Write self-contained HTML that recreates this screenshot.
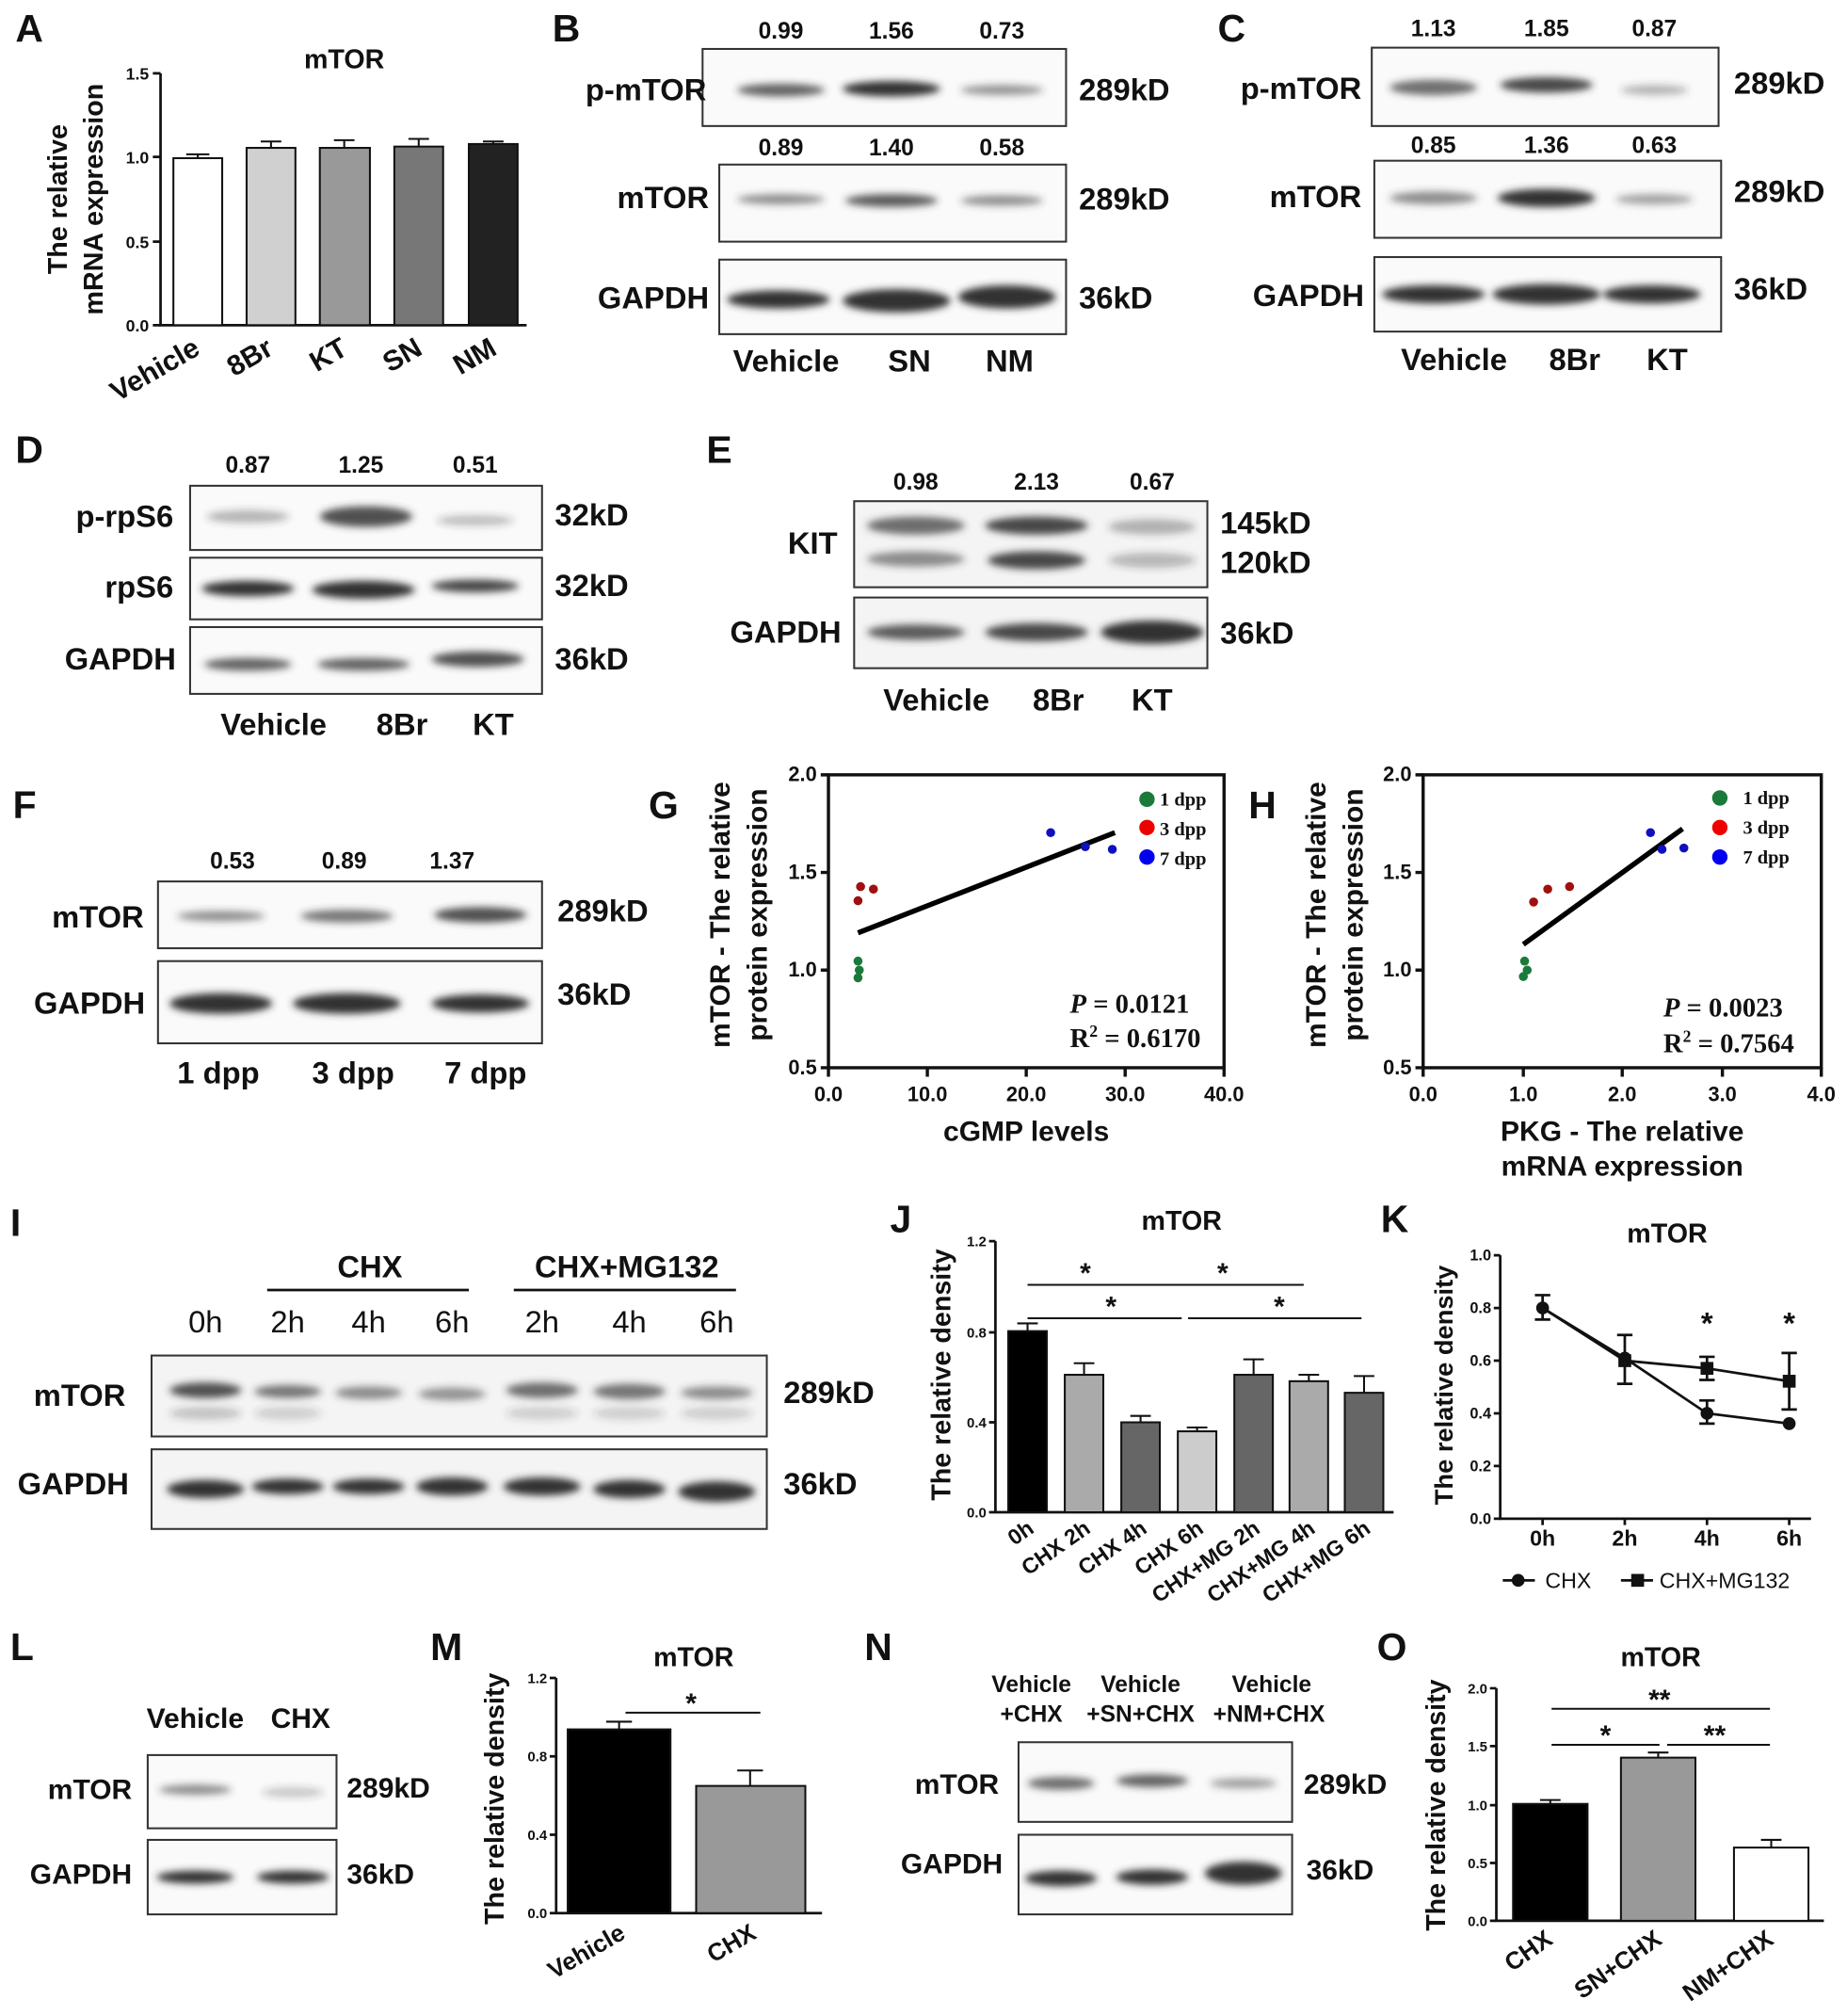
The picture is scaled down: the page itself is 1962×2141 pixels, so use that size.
<!DOCTYPE html>
<html><head><meta charset="utf-8">
<style>
html,body{margin:0;padding:0;background:#fff;}
svg{display:block;}
text{font-family:"Liberation Sans",sans-serif;font-weight:bold;fill:#111;}
.L{font-size:30px;}
.n{font-size:18px;}
.lab{font-size:24px;}
.kd{font-size:24px;}
.tk{font-size:13px;}
.tt{font-size:21px;}
.serif{font-family:"Liberation Serif",serif;}
</style></head><body>
<svg width="1962" height="2141" viewBox="0 0 1438 1569" xmlns="http://www.w3.org/2000/svg">
<defs>
<filter id="b" x="-20%" y="-100%" width="140%" height="300%"><feGaussianBlur stdDeviation="3"/></filter>
</defs>
<rect width="1438" height="1569" fill="#fff"/>

<!-- A -->
<text class="L" x="12" y="32">A</text>
<text class="tt" x="268" y="53" text-anchor="middle">mTOR</text>
<g stroke="#111" stroke-width="2" fill="none">
<path d="M125,57 V253 H410"/>
<path d="M119,57H125M119,122H125M119,188H125M119,253H125"/>
</g>
<g class="tk"><text x="116" y="62" text-anchor="end">1.5</text><text x="116" y="127" text-anchor="end">1.0</text><text x="116" y="193" text-anchor="end">0.5</text><text x="116" y="258" text-anchor="end">0.0</text></g>
<g stroke="#111" stroke-width="1.5">
<rect x="135" y="123" width="38" height="130" fill="#fff"/>
<rect x="192" y="115" width="38" height="138" fill="#d0d0d0"/>
<rect x="249" y="115" width="39" height="138" fill="#999"/>
<rect x="307" y="114" width="38" height="139" fill="#777"/>
<rect x="365" y="112" width="38" height="141" fill="#222"/>
<path d="M154,120V123M145,120H163M211,110V115M203,110H219M268,109V115M260,109H276M326,108V114M318,108H334M384,110V112M376,110H392" fill="none"/>
</g>
<g class="lab" font-size="22">
<text transform="translate(157,275) rotate(-30)" text-anchor="end" style="font-size:22px">Vehicle</text>
<text transform="translate(214,275) rotate(-30)" text-anchor="end" style="font-size:22px">8Br</text>
<text transform="translate(272,275) rotate(-30)" text-anchor="end" style="font-size:22px">KT</text>
<text transform="translate(330,275) rotate(-30)" text-anchor="end" style="font-size:22px">SN</text>
<text transform="translate(388,275) rotate(-30)" text-anchor="end" style="font-size:22px">NM</text>
</g>
<text transform="translate(52,155) rotate(-90)" text-anchor="middle" style="font-size:21px">The relative</text>
<text transform="translate(80,155) rotate(-90)" text-anchor="middle" style="font-size:21px">mRNA expression</text>

<!-- B -->
<text class="L" x="430" y="32">B</text>
<g class="n" text-anchor="middle"><text x="608" y="30">0.99</text><text x="694" y="30">1.56</text><text x="780" y="30">0.73</text>
<text x="608" y="121">0.89</text><text x="694" y="121">1.40</text><text x="780" y="121">0.58</text></g>
<g stroke="#333" stroke-width="1.5" fill="#fafafa"><rect x="547" y="38" width="283" height="60"/><rect x="560" y="128" width="270" height="60"/><rect x="560" y="202" width="270" height="58"/></g>
<g filter="url(#b)" fill="#333">
<ellipse cx="608" cy="70" rx="34" ry="5" opacity="0.75"/><ellipse cx="694" cy="69" rx="38" ry="6"/><ellipse cx="780" cy="70" rx="32" ry="4" opacity="0.5"/>
<ellipse cx="608" cy="155" rx="34" ry="4" opacity="0.55"/><ellipse cx="694" cy="156" rx="36" ry="5" opacity="0.8"/><ellipse cx="780" cy="156" rx="32" ry="4" opacity="0.55"/>
<ellipse cx="606" cy="233" rx="40" ry="7"/><ellipse cx="698" cy="234" rx="42" ry="9"/><ellipse cx="784" cy="231" rx="38" ry="9"/>
</g>
<g class="lab" text-anchor="end"><text x="550" y="78">p-mTOR</text><text x="552" y="162">mTOR</text><text x="552" y="240">GAPDH</text></g>
<g class="kd"><text x="840" y="78">289kD</text><text x="840" y="163">289kD</text><text x="840" y="240">36kD</text></g>
<g class="lab" text-anchor="middle"><text x="612" y="289">Vehicle</text><text x="708" y="289">SN</text><text x="786" y="289">NM</text></g>

<!-- C -->
<text class="L" x="948" y="32">C</text>
<g class="n" text-anchor="middle"><text x="1116" y="28">1.13</text><text x="1204" y="28">1.85</text><text x="1288" y="28">0.87</text>
<text x="1116" y="119">0.85</text><text x="1204" y="119">1.36</text><text x="1288" y="119">0.63</text></g>
<g stroke="#333" stroke-width="1.5" fill="#fafafa"><rect x="1068" y="37" width="270" height="61"/><rect x="1070" y="125" width="270" height="60"/><rect x="1070" y="200" width="270" height="58"/></g>
<g filter="url(#b)" fill="#333">
<ellipse cx="1116" cy="68" rx="34" ry="6" opacity="0.7"/><ellipse cx="1204" cy="66" rx="36" ry="6" opacity="0.9"/><ellipse cx="1288" cy="70" rx="26" ry="4" opacity="0.35"/>
<ellipse cx="1116" cy="154" rx="34" ry="5" opacity="0.55"/><ellipse cx="1204" cy="154" rx="38" ry="7"/><ellipse cx="1288" cy="155" rx="30" ry="4" opacity="0.45"/>
<ellipse cx="1116" cy="229" rx="40" ry="7"/><ellipse cx="1204" cy="229" rx="42" ry="8"/><ellipse cx="1286" cy="229" rx="38" ry="7"/>
</g>
<g class="lab" text-anchor="end"><text x="1060" y="77">p-mTOR</text><text x="1060" y="161">mTOR</text><text x="1062" y="238">GAPDH</text></g>
<g class="kd"><text x="1350" y="73">289kD</text><text x="1350" y="157">289kD</text><text x="1350" y="233">36kD</text></g>
<g class="lab" text-anchor="middle"><text x="1132" y="288">Vehicle</text><text x="1226" y="288">8Br</text><text x="1298" y="288">KT</text></g>

<!-- D -->
<text class="L" x="12" y="360">D</text>
<g class="n" text-anchor="middle"><text x="193" y="368">0.87</text><text x="281" y="368">1.25</text><text x="370" y="368">0.51</text></g>
<g stroke="#333" stroke-width="1.5" fill="#fafafa"><rect x="148" y="378" width="274" height="50"/><rect x="148" y="434" width="274" height="48"/><rect x="148" y="488" width="274" height="52"/></g>
<g filter="url(#b)" fill="#333">
<ellipse cx="193" cy="402" rx="32" ry="5" opacity="0.35"/><ellipse cx="285" cy="402" rx="36" ry="8" opacity="0.85"/><ellipse cx="370" cy="405" rx="30" ry="4" opacity="0.3"/>
<ellipse cx="193" cy="458" rx="36" ry="6"/><ellipse cx="283" cy="459" rx="40" ry="7"/><ellipse cx="370" cy="456" rx="34" ry="5" opacity="0.9"/>
<ellipse cx="193" cy="517" rx="34" ry="5" opacity="0.75"/><ellipse cx="283" cy="517" rx="36" ry="5" opacity="0.75"/><ellipse cx="372" cy="513" rx="36" ry="6" opacity="0.85"/>
</g>
<g class="lab" text-anchor="end"><text x="135" y="410">p-rpS6</text><text x="135" y="465">rpS6</text><text x="137" y="521">GAPDH</text></g>
<g class="kd"><text x="432" y="409">32kD</text><text x="432" y="464">32kD</text><text x="432" y="521">36kD</text></g>
<g class="lab" text-anchor="middle"><text x="213" y="572">Vehicle</text><text x="313" y="572">8Br</text><text x="384" y="572">KT</text></g>

<!-- E -->
<text class="L" x="550" y="360">E</text>
<g class="n" text-anchor="middle"><text x="713" y="381">0.98</text><text x="807" y="381">2.13</text><text x="897" y="381">0.67</text></g>
<g stroke="#333" stroke-width="1.5" fill="#f4f4f4"><rect x="665" y="390" width="275" height="67"/><rect x="665" y="465" width="275" height="55"/></g>
<g filter="url(#b)" fill="#333">
<ellipse cx="713" cy="409" rx="38" ry="7" opacity="0.7"/><ellipse cx="713" cy="435" rx="38" ry="6" opacity="0.55"/>
<ellipse cx="807" cy="409" rx="40" ry="7" opacity="0.9"/><ellipse cx="807" cy="436" rx="38" ry="7" opacity="0.9"/>
<ellipse cx="897" cy="410" rx="34" ry="6" opacity="0.35"/><ellipse cx="897" cy="436" rx="34" ry="6" opacity="0.3"/>
<ellipse cx="713" cy="492" rx="38" ry="6" opacity="0.8"/><ellipse cx="807" cy="492" rx="40" ry="7" opacity="0.9"/><ellipse cx="897" cy="492" rx="40" ry="9"/>
</g>
<text class="lab" x="652" y="431" text-anchor="end">KIT</text><text class="lab" x="655" y="500" text-anchor="end">GAPDH</text>
<g class="kd"><text x="950" y="415">145kD</text><text x="950" y="446">120kD</text><text x="950" y="501">36kD</text></g>
<g class="lab" text-anchor="middle"><text x="729" y="553">Vehicle</text><text x="824" y="553">8Br</text><text x="897" y="553">KT</text></g>

<!-- F -->
<text class="L" x="10" y="637">F</text>
<g class="n" text-anchor="middle"><text x="181" y="676">0.53</text><text x="268" y="676">0.89</text><text x="352" y="676">1.37</text></g>
<g stroke="#333" stroke-width="1.5" fill="#fafafa"><rect x="123" y="686" width="299" height="52"/><rect x="123" y="748" width="299" height="64"/></g>
<g filter="url(#b)" fill="#333">
<ellipse cx="172" cy="713" rx="34" ry="4" opacity="0.55"/><ellipse cx="270" cy="713" rx="36" ry="5" opacity="0.65"/><ellipse cx="374" cy="712" rx="36" ry="6" opacity="0.85"/>
<ellipse cx="172" cy="781" rx="40" ry="8"/><ellipse cx="270" cy="781" rx="42" ry="8"/><ellipse cx="374" cy="781" rx="38" ry="7"/>
</g>
<text class="lab" x="112" y="722" text-anchor="end">mTOR</text><text class="lab" x="113" y="789" text-anchor="end">GAPDH</text>
<g class="kd"><text x="434" y="717">289kD</text><text x="434" y="782">36kD</text></g>
<g class="lab" text-anchor="middle"><text x="170" y="843">1 dpp</text><text x="275" y="843">3 dpp</text><text x="378" y="843">7 dpp</text></g>

<!-- G -->
<text class="L" x="505" y="637">G</text>
<g stroke="#111" stroke-width="2.5" fill="none">
<rect x="645" y="603" width="308" height="228"/>
<path d="M639,603H645M639,679H645M639,755H645M639,831H645M645,831V838M722,831V838M799,831V838M876,831V838M953,831V838"/>
</g>
<g class="tk" style="font-size:16px"><text x="636" y="608" text-anchor="end">2.0</text><text x="636" y="684" text-anchor="end">1.5</text><text x="636" y="760" text-anchor="end">1.0</text><text x="636" y="836" text-anchor="end">0.5</text>
<g text-anchor="middle"><text x="645" y="857">0.0</text><text x="722" y="857">10.0</text><text x="799" y="857">20.0</text><text x="876" y="857">30.0</text><text x="953" y="857">40.0</text></g></g>
<line x1="668" y1="726" x2="868" y2="648" stroke="#000" stroke-width="4"/>
<g><circle cx="668" cy="748" r="3.5" fill="#1a7a3a"/><circle cx="669" cy="755" r="3.5" fill="#1a7a3a"/><circle cx="668" cy="761" r="3.5" fill="#1a7a3a"/>
<circle cx="668" cy="701" r="3.5" fill="#a01010"/><circle cx="670" cy="690" r="3.5" fill="#a01010"/><circle cx="680" cy="692" r="3.5" fill="#a01010"/>
<circle cx="818" cy="648" r="3.5" fill="#1010c0"/><circle cx="845" cy="659" r="3.5" fill="#1010c0"/><circle cx="866" cy="661" r="3.5" fill="#1010c0"/></g>
<g class="serif" style="font-size:15px"><circle cx="893" cy="622" r="6" fill="#1a7a3a"/><text class="serif" x="903" y="627">1 dpp</text>
<circle cx="893" cy="644" r="6" fill="#e00"/><text class="serif" x="903" y="650">3 dpp</text>
<circle cx="893" cy="667" r="6" fill="#00e"/><text class="serif" x="903" y="673">7 dpp</text></g>
<text class="serif" x="833" y="788" style="font-size:21px"><tspan font-style="italic">P</tspan> = 0.0121</text>
<text class="serif" x="833" y="815" style="font-size:21px">R<tspan dy="-8" style="font-size:13px">2</tspan><tspan dy="8"> = 0.6170</tspan></text>
<text transform="translate(568,712) rotate(-90)" text-anchor="middle" style="font-size:22px">mTOR - The relative</text>
<text transform="translate(597,712) rotate(-90)" text-anchor="middle" style="font-size:22px">protein expression</text>
<text class="lab" x="799" y="888" text-anchor="middle" style="font-size:22px">cGMP levels</text>

<!-- H -->
<text class="L" x="972" y="637">H</text>
<g stroke="#111" stroke-width="2.5" fill="none">
<rect x="1108" y="603" width="310" height="228"/>
<path d="M1102,603H1108M1102,679H1108M1102,755H1108M1102,831H1108M1108,831V838M1186,831V838M1263,831V838M1341,831V838M1418,831V838"/>
</g>
<g class="tk" style="font-size:16px"><text x="1099" y="608" text-anchor="end">2.0</text><text x="1099" y="684" text-anchor="end">1.5</text><text x="1099" y="760" text-anchor="end">1.0</text><text x="1099" y="836" text-anchor="end">0.5</text>
<g text-anchor="middle"><text x="1108" y="857">0.0</text><text x="1186" y="857">1.0</text><text x="1263" y="857">2.0</text><text x="1341" y="857">3.0</text><text x="1418" y="857">4.0</text></g></g>
<line x1="1186" y1="735" x2="1310" y2="645" stroke="#000" stroke-width="4"/>
<g><circle cx="1187" cy="748" r="3.5" fill="#1a7a3a"/><circle cx="1189" cy="755" r="3.5" fill="#1a7a3a"/><circle cx="1186" cy="760" r="3.5" fill="#1a7a3a"/>
<circle cx="1194" cy="702" r="3.5" fill="#a01010"/><circle cx="1205" cy="692" r="3.5" fill="#a01010"/><circle cx="1222" cy="690" r="3.5" fill="#a01010"/>
<circle cx="1285" cy="648" r="3.5" fill="#1010c0"/><circle cx="1294" cy="661" r="3.5" fill="#1010c0"/><circle cx="1311" cy="660" r="3.5" fill="#1010c0"/></g>
<circle cx="1339" cy="621" r="6" fill="#1a7a3a"/><text class="serif" x="1357" y="626" style="font-size:15px">1 dpp</text>
<circle cx="1339" cy="644" r="6" fill="#e00"/><text class="serif" x="1357" y="649" style="font-size:15px">3 dpp</text>
<circle cx="1339" cy="667" r="6" fill="#00e"/><text class="serif" x="1357" y="672" style="font-size:15px">7 dpp</text>
<text class="serif" x="1295" y="791" style="font-size:21px"><tspan font-style="italic">P</tspan> = 0.0023</text>
<text class="serif" x="1295" y="819" style="font-size:21px">R<tspan dy="-8" style="font-size:13px">2</tspan><tspan dy="8"> = 0.7564</tspan></text>
<text transform="translate(1032,712) rotate(-90)" text-anchor="middle" style="font-size:22px">mTOR - The relative</text>
<text transform="translate(1061,712) rotate(-90)" text-anchor="middle" style="font-size:22px">protein expression</text>
<text x="1263" y="888" text-anchor="middle" style="font-size:22px">PKG - The relative</text>
<text x="1263" y="915" text-anchor="middle" style="font-size:22px">mRNA expression</text>

<!-- I -->
<text class="L" x="8" y="962">I</text>
<text class="lab" x="288" y="994" text-anchor="middle">CHX</text>
<text class="lab" x="488" y="994" text-anchor="middle">CHX+MG132</text>
<g stroke="#111" stroke-width="2"><line x1="208" y1="1004" x2="365" y2="1004"/><line x1="400" y1="1004" x2="573" y2="1004"/></g>
<g class="lab" text-anchor="middle" style="font-weight:normal"><text x="160" y="1037" style="font-weight:normal">0h</text><text x="224" y="1037" style="font-weight:normal">2h</text><text x="287" y="1037" style="font-weight:normal">4h</text><text x="352" y="1037" style="font-weight:normal">6h</text><text x="422" y="1037" style="font-weight:normal">2h</text><text x="490" y="1037" style="font-weight:normal">4h</text><text x="558" y="1037" style="font-weight:normal">6h</text></g>
<g stroke="#333" stroke-width="1.5" fill="#f4f4f4"><rect x="118" y="1055" width="479" height="63"/><rect x="118" y="1128" width="479" height="62"/></g>
<g filter="url(#b)" fill="#333">
<ellipse cx="160" cy="1082" rx="28" ry="6" opacity="0.85"/><ellipse cx="224" cy="1083" rx="26" ry="5" opacity="0.65"/><ellipse cx="287" cy="1084" rx="26" ry="5" opacity="0.55"/><ellipse cx="352" cy="1085" rx="26" ry="5" opacity="0.5"/><ellipse cx="422" cy="1082" rx="28" ry="6" opacity="0.7"/><ellipse cx="490" cy="1083" rx="28" ry="6" opacity="0.65"/><ellipse cx="558" cy="1084" rx="28" ry="5" opacity="0.55"/>
<ellipse cx="160" cy="1100" rx="28" ry="5" opacity="0.25"/><ellipse cx="224" cy="1100" rx="26" ry="5" opacity="0.2"/><ellipse cx="422" cy="1100" rx="28" ry="5" opacity="0.2"/><ellipse cx="490" cy="1100" rx="28" ry="5" opacity="0.2"/><ellipse cx="558" cy="1100" rx="28" ry="5" opacity="0.2"/>
<ellipse cx="160" cy="1159" rx="30" ry="7"/><ellipse cx="224" cy="1157" rx="28" ry="6"/><ellipse cx="287" cy="1157" rx="28" ry="6"/><ellipse cx="352" cy="1157" rx="28" ry="7"/><ellipse cx="422" cy="1157" rx="30" ry="7"/><ellipse cx="490" cy="1159" rx="28" ry="7"/><ellipse cx="558" cy="1161" rx="30" ry="8"/>
</g>
<text class="lab" x="62" y="1094" text-anchor="middle">mTOR</text><text class="lab" x="57" y="1163" text-anchor="middle">GAPDH</text>
<g class="kd"><text x="610" y="1092">289kD</text><text x="610" y="1163">36kD</text></g>

<!-- J -->
<text class="L" x="693" y="959">J</text>
<text class="tt" x="920" y="957" text-anchor="middle">mTOR</text>
<g stroke="#111" stroke-width="2" fill="none"><path d="M775,966V1177H1085"/><path d="M770,966H775M770,1037H775M770,1107H775M770,1177H775"/></g>
<g class="tk" style="font-size:11px"><text x="768" y="970" text-anchor="end">1.2</text><text x="768" y="1041" text-anchor="end">0.8</text><text x="768" y="1111" text-anchor="end">0.4</text><text x="768" y="1181" text-anchor="end">0.0</text></g>
<g stroke="#111" stroke-width="1.5">
<rect x="785" y="1036" width="30" height="141" fill="#000"/>
<rect x="829" y="1070" width="30" height="107" fill="#aaa"/>
<rect x="873" y="1107" width="30" height="70" fill="#666"/>
<rect x="917" y="1114" width="30" height="63" fill="#ccc"/>
<rect x="961" y="1070" width="30" height="107" fill="#666"/>
<rect x="1004" y="1075" width="30" height="102" fill="#aaa"/>
<rect x="1047" y="1084" width="30" height="93" fill="#666"/>
<path fill="none" d="M800,1030V1036M792,1030H808M844,1061V1070M836,1061H852M888,1102V1107M880,1102H896M932,1111V1114M924,1111H940M976,1058V1070M968,1058H984M1019,1070V1075M1011,1070H1027M1062,1071V1084M1054,1071H1070"/>
<path d="M800,1000H1015M800,1026H920M925,1026H1060"/>
</g>
<g style="font-size:22px"><text x="845" y="998" text-anchor="middle" style="font-size:22px">*</text><text x="952" y="998" text-anchor="middle" style="font-size:22px">*</text><text x="865" y="1024" text-anchor="middle" style="font-size:22px">*</text><text x="996" y="1024" text-anchor="middle" style="font-size:22px">*</text></g>
<g style="font-size:17px">
<text transform="translate(806,1192) rotate(-35)" text-anchor="end" style="font-size:17px">0h</text>
<text transform="translate(850,1192) rotate(-35)" text-anchor="end" style="font-size:17px">CHX 2h</text>
<text transform="translate(894,1192) rotate(-35)" text-anchor="end" style="font-size:17px">CHX 4h</text>
<text transform="translate(938,1192) rotate(-35)" text-anchor="end" style="font-size:17px">CHX 6h</text>
<text transform="translate(982,1192) rotate(-35)" text-anchor="end" style="font-size:17px">CHX+MG 2h</text>
<text transform="translate(1025,1192) rotate(-35)" text-anchor="end" style="font-size:17px">CHX+MG 4h</text>
<text transform="translate(1068,1192) rotate(-35)" text-anchor="end" style="font-size:17px">CHX+MG 6h</text>
</g>
<text transform="translate(740,1070) rotate(-90)" text-anchor="middle" style="font-size:21px">The relative density</text>

<!-- K -->
<text class="L" x="1075" y="959">K</text>
<text class="tt" x="1298" y="967" text-anchor="middle">mTOR</text>
<g stroke="#111" stroke-width="2" fill="none"><path d="M1168,977V1182H1410"/><path d="M1163,977H1168M1163,1018H1168M1163,1059H1168M1163,1100H1168M1163,1141H1168M1163,1182H1168M1201,1182V1187M1265,1182V1187M1329,1182V1187M1393,1182V1187"/></g>
<g class="tk" style="font-size:12px"><text x="1161" y="981" text-anchor="end">1.0</text><text x="1161" y="1022" text-anchor="end">0.8</text><text x="1161" y="1063" text-anchor="end">0.6</text><text x="1161" y="1104" text-anchor="end">0.4</text><text x="1161" y="1145" text-anchor="end">0.2</text><text x="1161" y="1186" text-anchor="end">0.0</text></g>
<g class="tk" text-anchor="middle" style="font-size:17px"><text x="1201" y="1203">0h</text><text x="1265" y="1203">2h</text><text x="1329" y="1203">4h</text><text x="1393" y="1203">6h</text></g>
<g stroke="#111" stroke-width="2" fill="none">
<polyline points="1201,1018 1265,1057 1329,1100 1393,1108"/>
<polyline points="1201,1018 1265,1059 1329,1065 1393,1075"/>
<path d="M1201,1008V1027M1195,1008H1207M1195,1027H1207M1265,1039V1077M1259,1039H1271M1259,1077H1271M1329,1090V1108M1323,1090H1335M1323,1108H1335M1393,1104V1112M1329,1056V1074M1323,1056H1335M1323,1074H1335M1393,1053V1097M1387,1053H1399M1387,1097H1399"/>
</g>
<g fill="#111"><circle cx="1201" cy="1018" r="5"/><circle cx="1265" cy="1057" r="5"/><circle cx="1329" cy="1100" r="5"/><circle cx="1393" cy="1108" r="5"/>
<rect x="1260" y="1054" width="10" height="10"/><rect x="1324" y="1060" width="10" height="10"/><rect x="1388" y="1070" width="10" height="10"/></g>
<text x="1329" y="1038" text-anchor="middle" style="font-size:24px">*</text><text x="1393" y="1038" text-anchor="middle" style="font-size:24px">*</text>
<line x1="1170" y1="1230" x2="1195" y2="1230" stroke="#111" stroke-width="2"/><circle cx="1182" cy="1230" r="5" fill="#111"/>
<text x="1203" y="1236" style="font-size:17px;font-weight:normal">CHX</text>
<line x1="1262" y1="1230" x2="1287" y2="1230" stroke="#111" stroke-width="2"/><rect x="1270" y="1225" width="10" height="10" fill="#111"/>
<text x="1292" y="1236" style="font-size:17px;font-weight:normal">CHX+MG132</text>
<text transform="translate(1131,1078) rotate(-90)" text-anchor="middle" style="font-size:20px">The relative density</text>

<!-- L -->
<text class="L" x="8" y="1292">L</text>
<text class="lab" x="152" y="1345" text-anchor="middle" style="font-size:22px">Vehicle</text><text class="lab" x="234" y="1345" text-anchor="middle" style="font-size:22px">CHX</text>
<g stroke="#333" stroke-width="1.5" fill="#fafafa"><rect x="115" y="1366" width="147" height="57"/><rect x="115" y="1432" width="147" height="58"/></g>
<g filter="url(#b)" fill="#333"><ellipse cx="152" cy="1393" rx="28" ry="4" opacity="0.55"/><ellipse cx="228" cy="1395" rx="24" ry="4" opacity="0.25"/>
<ellipse cx="152" cy="1461" rx="30" ry="5"/><ellipse cx="228" cy="1461" rx="28" ry="5"/></g>
<text x="70" y="1400" text-anchor="middle" style="font-size:22px">mTOR</text><text x="63" y="1466" text-anchor="middle" style="font-size:22px">GAPDH</text>
<text x="270" y="1399" style="font-size:22px">289kD</text><text x="270" y="1466" style="font-size:22px">36kD</text>

<!-- M -->
<text class="L" x="335" y="1292">M</text>
<text class="tt" x="540" y="1297" text-anchor="middle">mTOR</text>
<g stroke="#111" stroke-width="2" fill="none"><path d="M433,1306V1489H640"/><path d="M428,1306H433M428,1367H433M428,1428H433M428,1489H433"/></g>
<g class="tk" style="font-size:11px"><text x="426" y="1310" text-anchor="end">1.2</text><text x="426" y="1371" text-anchor="end">0.8</text><text x="426" y="1432" text-anchor="end">0.4</text><text x="426" y="1493" text-anchor="end">0.0</text></g>
<g stroke="#111" stroke-width="1.5"><rect x="442" y="1346" width="80" height="143" fill="#000"/><rect x="542" y="1390" width="85" height="99" fill="#999"/>
<path fill="none" d="M482,1340V1346M472,1340H492M584,1378V1390M574,1378H594M487,1333H592"/></g>
<text x="538" y="1333" text-anchor="middle" style="font-size:22px">*</text>
<text transform="translate(488,1508) rotate(-30)" text-anchor="end" style="font-size:19px">Vehicle</text>
<text transform="translate(590,1508) rotate(-30)" text-anchor="end" style="font-size:19px">CHX</text>
<text transform="translate(392,1400) rotate(-90)" text-anchor="middle" style="font-size:21px">The relative density</text>

<!-- N -->
<text class="L" x="673" y="1292">N</text>
<g text-anchor="middle" style="font-size:18px"><text x="803" y="1317" style="font-size:18px">Vehicle</text><text x="803" y="1340" style="font-size:18px">+CHX</text>
<text x="888" y="1317" style="font-size:18px">Vehicle</text><text x="888" y="1340" style="font-size:18px">+SN+CHX</text>
<text x="990" y="1317" style="font-size:18px">Vehicle</text><text x="988" y="1340" style="font-size:18px">+NM+CHX</text></g>
<g stroke="#333" stroke-width="1.5" fill="#fafafa"><rect x="793" y="1356" width="213" height="62"/><rect x="793" y="1428" width="213" height="62"/></g>
<g filter="url(#b)" fill="#333"><ellipse cx="826" cy="1388" rx="26" ry="5" opacity="0.7"/><ellipse cx="897" cy="1386" rx="28" ry="5" opacity="0.75"/><ellipse cx="968" cy="1388" rx="26" ry="4" opacity="0.45"/>
<ellipse cx="826" cy="1462" rx="28" ry="6"/><ellipse cx="897" cy="1461" rx="28" ry="6"/><ellipse cx="968" cy="1458" rx="30" ry="9"/></g>
<text x="745" y="1396" text-anchor="middle" style="font-size:22px">mTOR</text><text x="741" y="1458" text-anchor="middle" style="font-size:22px">GAPDH</text>
<text x="1015" y="1396" style="font-size:22px">289kD</text><text x="1017" y="1463" style="font-size:22px">36kD</text>

<!-- O -->
<text class="L" x="1072" y="1292">O</text>
<text class="tt" x="1293" y="1297" text-anchor="middle">mTOR</text>
<g stroke="#111" stroke-width="2" fill="none"><path d="M1165,1314V1495H1420"/><path d="M1160,1314H1165M1160,1359H1165M1160,1405H1165M1160,1450H1165M1160,1495H1165"/></g>
<g class="tk" style="font-size:11px"><text x="1158" y="1318" text-anchor="end">2.0</text><text x="1158" y="1363" text-anchor="end">1.5</text><text x="1158" y="1409" text-anchor="end">1.0</text><text x="1158" y="1454" text-anchor="end">0.5</text><text x="1158" y="1499" text-anchor="end">0.0</text></g>
<g stroke="#111" stroke-width="1.5"><rect x="1178" y="1404" width="58" height="91" fill="#000"/><rect x="1262" y="1368" width="58" height="127" fill="#999"/><rect x="1350" y="1438" width="58" height="57" fill="#fff"/>
<path fill="none" d="M1207,1401V1404M1199,1401H1215M1291,1364V1368M1283,1364H1299M1379,1432V1438M1371,1432H1387M1208,1330H1378M1208,1358H1292M1298,1358H1378"/></g>
<text x="1292" y="1330" text-anchor="middle" style="font-size:22px">**</text><text x="1250" y="1358" text-anchor="middle" style="font-size:22px">*</text><text x="1335" y="1358" text-anchor="middle" style="font-size:22px">**</text>
<text transform="translate(1210,1512) rotate(-35)" text-anchor="end" style="font-size:19px">CHX</text>
<text transform="translate(1295,1512) rotate(-35)" text-anchor="end" style="font-size:19px">SN+CHX</text>
<text transform="translate(1382,1512) rotate(-35)" text-anchor="end" style="font-size:19px">NM+CHX</text>
<text transform="translate(1125,1405) rotate(-90)" text-anchor="middle" style="font-size:21px">The relative density</text>
</svg>
</body></html>
